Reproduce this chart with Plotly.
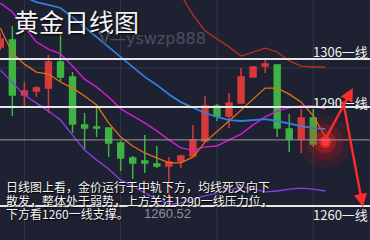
import plotly.graph_objects as go

# ---------------- data ----------------
idx = list(range(28))
opens  = [1309.75, 1311.95, 1294.74, 1295.99, 1296.93, 1305.06, 1300.37, 1285.35, 1284.72, 1284.41,
          1279.72, 1275.02, 1274.08, 1273.15, 1272.52, 1274.08, 1275.65, 1280.34, 1291.29, 1288.16,
          1292.23, 1300.37, 1303.81, 1304.12, 1284.10, 1280.97, 1287.54, 1280.03]
highs  = [1314.14, 1316.33, 1298.80, 1297.55, 1307.25, 1313.82, 1301.93, 1289.10, 1290.67, 1284.60,
          1280.34, 1275.65, 1282.22, 1278.78, 1275.34, 1275.96, 1285.35, 1294.42, 1291.92, 1295.36,
          1303.18, 1303.81, 1306.31, 1304.44, 1288.79, 1290.36, 1290.36, 1282.22]
lows   = [1308.82, 1288.16, 1290.67, 1294.11, 1289.10, 1299.12, 1282.85, 1277.84, 1281.59, 1275.34,
          1270.95, 1268.45, 1270.33, 1271.89, 1260.52, 1271.89, 1275.50, 1280.03, 1286.60, 1284.41,
          1292.00, 1300.20, 1301.62, 1281.59, 1276.90, 1276.59, 1278.47, 1278.15]
closes = [1312.26, 1294.74, 1295.99, 1296.93, 1305.06, 1300.37, 1285.66, 1284.41, 1284.41, 1279.72,
          1275.02, 1273.46, 1273.46, 1272.52, 1273.77, 1275.65, 1280.66, 1291.29, 1288.16, 1292.23,
          1300.37, 1303.50, 1304.44, 1284.41, 1280.97, 1287.54, 1279.40, 1281.28]

N = None
ma_blue    = [N, N, 1325.4, 1323.8, 1322.9, 1321.96, 1319.1, 1316.0, 1312.9, 1309.75, 1306.6, 1303.5,
              1300.4, 1297.9, 1295.0, 1292.5, 1290.7, 1289.1, 1287.9, 1286.9, 1286.6, 1286.9, 1287.2,
              1286.6, 1285.7, 1285.0, 1284.4, 1284.1]
ma_magenta = [1323.5, 1320.7, 1316.0, 1311.3, 1309.1, 1307.6, 1303.8, 1299.7, 1297.2, 1294.1, 1290.4,
              1288.2, 1286.0, 1283.5, 1280.7, 1278.2, 1277.5, 1278.5, 1278.8, 1280.7, 1282.5, 1285.4,
              1287.9, 1289.7, 1290.7, 1291.3, 1291.3, 1290.4]
ma_orange  = [1315.7, 1307.9, 1304.4, 1301.9, 1301.3, 1298.8, 1296.9, 1294.4, 1291.6, 1286.0, 1281.6,
              1278.8, 1276.6, 1275.0, 1273.5, 1273.5, 1275.3, 1280.0, 1283.2, 1286.6, 1290.0, 1293.5,
              1296.9, 1296.9, 1295.0, 1292.5, 1288.2, 1281.6]
ma_darkred = [N] * 15 + [1326.0, 1319.8, 1314.8, 1312.3, 1309.8, 1306.9, 1308.2, 1309.4, 1308.2,
                         1305.4, 1303.8, 1303.5, 1303.5]
ma_purple  = [1302.6, 1298.8, 1294.7, 1292.2, 1289.7, 1286.9, 1282.2, 1277.5, 1274.4, 1271.6, 1268.1,
              1266.3, 1264.1, 1262.2, 1260.6, 1260.9, 1262.2, 1263.1, 1264.1, 1265.0, 1266.0, 1265.4,
              1264.4, 1264.7, 1265.3, 1265.6, 1265.3, 1264.7]

level_values = [1306.0, 1291.0, 1260.0]
level_labels = ["1306一线", "1290一线", "1260一线"]
last_price_line = 1280.7
grid_price = 1303.2
low_label = "1260.52"
low_value = 1260.52
low_index = 14
dot_index = 27
dot_price = 1280.0

title_text = "黄金日线图"
watermark = "V—yswzp888"
comment_lines = [
    "日线图上看，金价运行于中轨下方，均线死叉向下",
    "散发，整体处于弱势，上方关注1290一线压力位，",
    "下方看1260一线支撑。",
]
# arrows: (tail_x, tail_y, tip_x, tip_y) in data units
arrows = [(26.97, 1280.66, 29.29, 1296.93), (28.46, 1293.2, 30.12, 1259.7)]

# ---------------- styling ----------------
BG = "#1e2131"
RED = "#d8393b"
GREEN = "#3db343"
XR = [-0.025, 30.71]
YR = [1249.37, 1324.46]

fig = go.Figure()
fig.add_trace(go.Candlestick(
    x=idx, open=opens, high=highs, low=lows, close=closes,
    increasing=dict(line=dict(color=RED, width=1.5), fillcolor=RED),
    decreasing=dict(line=dict(color=GREEN, width=1.5), fillcolor=GREEN),
    whiskerwidth=0, showlegend=False, hoverinfo="skip"))

for vals, col, w in [(ma_darkred, "#b8321f", 1.3), (ma_purple, "#8a3fe6", 1.3),
                     (ma_orange, "#e3720f", 1.3), (ma_magenta, "#d51bd5", 1.4),
                     (ma_blue, "#2f80e2", 1.8)]:
    fig.add_trace(go.Scatter(x=idx, y=vals, mode="lines", line=dict(color=col, width=w),
                             showlegend=False, hoverinfo="skip", connectgaps=False))

# glowing dot
for size, colr in [(52, "rgba(255,20,20,0.10)"), (36, "rgba(255,20,20,0.16)"),
                   (22, "rgba(255,30,30,0.32)"), (12, "rgba(255,40,40,0.75)"), (7, "#ff3a3a")]:
    fig.add_trace(go.Scatter(x=[dot_index], y=[dot_price], mode="markers",
                             marker=dict(size=size, color=colr, line=dict(width=0)),
                             showlegend=False, hoverinfo="skip"))

shapes = []
# grid
for gx in [2, 10, 18, 26]:
    shapes.append(dict(type="line", xref="x", yref="paper", x0=gx, x1=gx, y0=0, y1=1,
                       line=dict(color="#323747", width=1), layer="below"))
shapes.append(dict(type="line", xref="paper", yref="y", x0=0, x1=1, y0=grid_price, y1=grid_price,
                   line=dict(color="#323747", width=1), layer="below"))
shapes.append(dict(type="line", xref="paper", yref="y", x0=0, x1=1, y0=last_price_line,
                   y1=last_price_line, line=dict(color="#9a9a9a", width=1), layer="above"))
for v in level_values:
    shapes.append(dict(type="line", xref="paper", yref="y", x0=0, x1=1, y0=v, y1=v,
                       line=dict(color="#e6e6e6", width=2), layer="above"))

ann = []
ann.append(dict(text=title_text, xref="paper", yref="paper", x=12/370, y=1-21/240,
                xanchor="left", yanchor="middle", showarrow=False,
                font=dict(family="Noto Sans CJK SC", size=25, color="#f4f4f4",
                          shadow="1px 1px 2px #000")))
ann.append(dict(text=watermark, xref="paper", yref="paper", x=97/370, y=1-39/240,
                xanchor="left", yanchor="middle", showarrow=False,
                font=dict(family="DejaVu Sans", size=16, color="#4a4f5e")))
label_y = [(1306.0, 51.5), (1291.0, 102), (1260.0, 214)]
for (v, py), lab in zip(label_y, level_labels):
    ann.append(dict(text=lab, xref="paper", yref="paper", x=1.0, y=1-py/240,
                    xanchor="right", yanchor="middle", showarrow=False,
                    font=dict(family="Noto Sans CJK SC", size=13, color="#f2f2f2")))
for line, py in zip(comment_lines, [186.5, 200, 213.5]):
    ann.append(dict(text=line, xref="paper", yref="paper", x=4/370, y=1-py/240,
                    xanchor="left", yanchor="middle", showarrow=False,
                    font=dict(family="Noto Sans CJK SC", size=12, color="#f4f4f4",
                              shadow="1px 1px 1px #000")))
ann.append(dict(text=low_label, xref="x", yref="paper", x=low_index - 0.1, y=1-213/240,
                xanchor="center", yanchor="middle", showarrow=False,
                font=dict(family="Liberation Sans", size=13, color="#8d919b")))
for tx, ty, hx, hy in arrows:
    ann.append(dict(text="", x=hx, y=hy, ax=tx, ay=ty, xref="x", yref="y", axref="x", ayref="y",
                    showarrow=True, arrowhead=2, arrowsize=1.1, arrowwidth=2.4,
                    arrowcolor="#ff2b2b"))

fig.update_layout(
    width=370, height=240, margin=dict(l=0, r=0, t=0, b=0),
    paper_bgcolor=BG, plot_bgcolor=BG, showlegend=False,
    xaxis=dict(range=XR, showgrid=False, zeroline=False, showticklabels=False,
               rangeslider=dict(visible=False), fixedrange=True),
    yaxis=dict(range=YR, showgrid=False, zeroline=False, showticklabels=False, fixedrange=True),
    shapes=shapes, annotations=ann,
)
fig.write_html("out.html", config={"displayModeBar": False})
